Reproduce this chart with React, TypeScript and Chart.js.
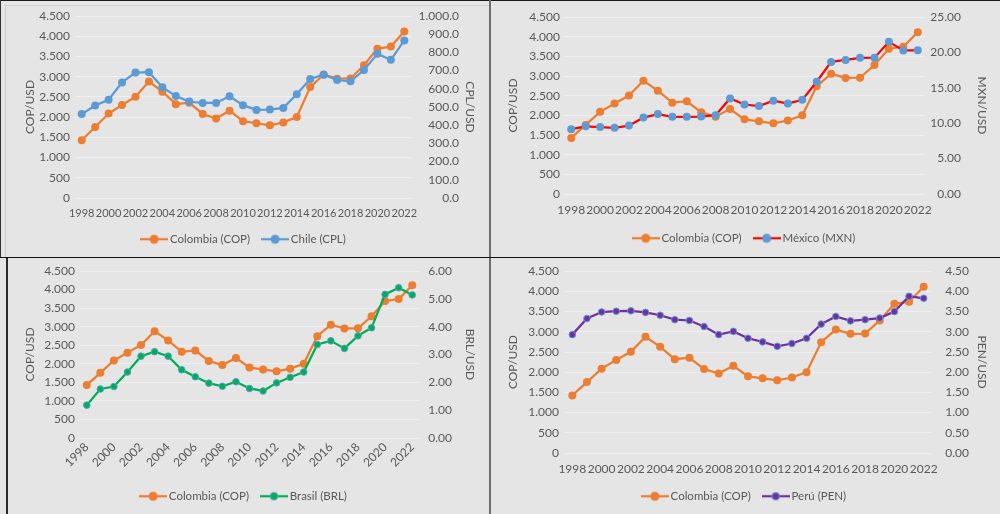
import React, { useEffect, useRef } from "react";
import { Chart, registerables } from "chart.js";

Chart.register(...registerables);

// ---------------- DATA ----------------
const years = [
  "1998", "1999", "2000", "2001", "2002", "2003", "2004", "2005", "2006", "2007",
  "2008", "2009", "2010", "2011", "2012", "2013", "2014", "2015", "2016", "2017",
  "2018", "2019", "2020", "2021", "2022",
];

const copValues = [
  1426, 1756, 2088, 2300, 2504, 2878, 2628, 2321, 2358, 2078,
  1967, 2158, 1898, 1848, 1798, 1869, 2001, 2742, 3055, 2951,
  2956, 3281, 3693, 3743, 4115,
];

const clpValues = [
  461, 508, 540, 635, 689, 691, 609, 560, 530, 522,
  522, 559, 510, 484, 486, 495, 570, 654, 677, 649,
  641, 703, 792, 759, 866,
];

const mxnValues = [
  9.15, 9.56, 9.46, 9.34, 9.66, 10.79, 11.29, 10.9, 10.9, 10.93,
  11.14, 13.5, 12.64, 12.42, 13.17, 12.77, 13.3, 15.85, 18.66, 18.93,
  19.24, 19.26, 21.49, 20.27, 20.3,
];

const brlValues = [
  1.18, 1.76, 1.85, 2.37, 2.94, 3.1, 2.94, 2.45, 2.2, 1.97,
  1.86, 2.02, 1.78, 1.69, 1.98, 2.18, 2.37, 3.36, 3.49, 3.22,
  3.67, 3.96, 5.16, 5.4, 5.14,
];

const penValues = [
  2.93, 3.33, 3.49, 3.51, 3.52, 3.48, 3.41, 3.3, 3.28, 3.13,
  2.93, 3.01, 2.84, 2.75, 2.64, 2.71, 2.84, 3.19, 3.38, 3.27,
  3.3, 3.34, 3.5, 3.88, 3.83,
];

const copAxisMax = 4500;
const copAxisStep = 500;

// ---------------- STYLE ----------------
const FONT = 'Lato, "Noto Sans", "DejaVu Sans", sans-serif';
const TEXT = "#595959";
const GRID = "#efefef";
const BG = "#e5e5e5";
const ORANGE = "#ED7D31";
const BLUE = "#5B9BD5";
const RED = "#FF0000";
const GREEN = "#00B050";
const PURPLE = "#7030A0";

function fmt(v: number, dec: number) {
  const s = v.toFixed(dec);
  const [i, d] = s.split(".");
  const ii = i.replace(/\B(?=(\d{3})+(?!\d))/g, ".");
  return d ? ii + "." + d : ii;
}

function legendIcon(line: string, fill: string, border: string | null, r: number) {
  const c = document.createElement("canvas");
  c.width = 28;
  c.height = 12;
  const ctx = c.getContext("2d")!;
  ctx.strokeStyle = line;
  ctx.lineWidth = 2.25;
  ctx.beginPath();
  ctx.moveTo(0, 6);
  ctx.lineTo(28, 6);
  ctx.stroke();
  ctx.beginPath();
  ctx.arc(14, 6, r, 0, Math.PI * 2);
  ctx.fillStyle = fill;
  ctx.fill();
  if (border) {
    ctx.lineWidth = 1;
    ctx.strokeStyle = border;
    ctx.stroke();
  }
  return c;
}

type Series = {
  label: string;
  values: number[];
  line: string;
  fill: string;
  border: string | null;
  radius: number;
};

type PanelCfg = {
  key: string;
  box: { left: number; top: number; width: number; height: number };
  plot: { left: number; right: number; top: number; bottom: number };
  rightLabelEdge: number;
  padBottom: number;
  leftTitlePad: number;
  leftTickPad: number;
  rightTitlePad: number;
  xTickPad: number;
  xFontSize: number;
  rotate: boolean;
  rightTitle: string;
  rightMax: number;
  rightStep: number;
  rightDec: number;
  second: Series;
};

const colombia: Series = {
  label: "Colombia (COP)",
  values: copValues,
  line: ORANGE,
  fill: ORANGE,
  border: null,
  radius: 4,
};

const panels: PanelCfg[] = [
  {
    key: "cl",
    box: { left: 0, top: 0, width: 490, height: 257 },
    plot: { left: 75, right: 411, top: 16, bottom: 198 },
    rightLabelEdge: 459,
    padBottom: 2,
    leftTitlePad: 23,
    leftTickPad: 5,
    rightTitlePad: 13,
    xTickPad: 9,
    xFontSize: 11,
    rotate: false,
    rightTitle: "CPL/USD",
    rightMax: 1000,
    rightStep: 100,
    rightDec: 1,
    second: { label: "Chile (CPL)", values: clpValues, line: BLUE, fill: BLUE, border: null, radius: 4 },
  },
  {
    key: "mx",
    box: { left: 491, top: 0, width: 509, height: 257 },
    plot: { left: 73, right: 434, top: 17, bottom: 194 },
    rightLabelEdge: 470,
    padBottom: 3,
    leftTitlePad: 15,
    leftTickPad: 4,
    rightTitlePad: 11,
    xTickPad: 9,
    xFontSize: 12,
    rotate: false,
    rightTitle: "MXN/USD",
    rightMax: 25,
    rightStep: 5,
    rightDec: 2,
    second: { label: "México (MXN)", values: mxnValues, line: RED, fill: BLUE, border: null, radius: 4 },
  },
  {
    key: "br",
    box: { left: 0, top: 258, width: 490, height: 256 },
    plot: { left: 80, right: 419, top: 13, bottom: 180 },
    rightLabelEdge: 452,
    padBottom: 2,
    leftTitlePad: 23,
    leftTickPad: 5,
    rightTitlePad: 13,
    xTickPad: 2,
    xFontSize: 12,
    rotate: true,
    rightTitle: "BRL/USD",
    rightMax: 6,
    rightStep: 1,
    rightDec: 2,
    second: { label: "Brasil (BRL)", values: brlValues, line: GREEN, fill: GREEN, border: BLUE, radius: 3.3 },
  },
  {
    key: "pe",
    box: { left: 491, top: 258, width: 509, height: 256 },
    plot: { left: 74, right: 440, top: 13, bottom: 195 },
    rightLabelEdge: 478,
    padBottom: 2,
    leftTitlePad: 15,
    leftTickPad: 6,
    rightTitlePad: 11,
    xTickPad: 9,
    xFontSize: 12,
    rotate: false,
    rightTitle: "PEN/USD",
    rightMax: 4.5,
    rightStep: 0.5,
    rightDec: 2,
    second: { label: "Perú (PEN)", values: penValues, line: PURPLE, fill: PURPLE, border: BLUE, radius: 3.3 },
  },
];

function makeDataset(s: Series, axis: string, order: number) {
  return {
    label: s.label,
    data: s.values,
    yAxisID: axis,
    borderColor: s.line,
    backgroundColor: s.fill,
    pointBackgroundColor: s.fill,
    pointBorderColor: s.border || s.fill,
    pointBorderWidth: s.border ? 1 : 0,
    pointRadius: s.radius,
    pointHoverRadius: s.radius,
    borderWidth: 2.25,
    tension: 0,
    order,
  };
}

const LEGEND_PAD = 15;

function Panel({ cfg }: { cfg: PanelCfg }) {
  const ref = useRef<HTMLCanvasElement | null>(null);

  useEffect(() => {
    if (!ref.current) return;
    const { box, plot } = cfg;
    const W = box.width;
    const H = box.height;
    const series = [colombia, cfg.second];
    const icons = series.map((s) => legendIcon(s.line, s.fill, s.border, s.radius + 0.5));
    const tickFont = { family: FONT, size: 12 };
    const xFont = { family: FONT, size: cfg.xFontSize };
    const legendFont = { family: FONT, size: 11.5 };

    const chart = new Chart(ref.current, {
      type: "line",
      data: {
        labels: years,
        datasets: [makeDataset(colombia, "y", 2), makeDataset(cfg.second, "y2", 1)] as any,
      },
      options: {
        responsive: false,
        animation: false,
        devicePixelRatio: 1,
        layout: { padding: { top: plot.top, left: 0, right: 0, bottom: cfg.padBottom } },
        plugins: {
          tooltip: { enabled: false },
          legend: {
            display: true,
            position: "bottom",
            labels: {
              usePointStyle: true,
              pointStyleWidth: 20,
              padding: LEGEND_PAD,
              color: TEXT,
              font: legendFont,
              generateLabels: () =>
                series.map((s, i) => ({
                  text: s.label,
                  pointStyle: icons[i],
                  rotation: 0,
                  fontColor: TEXT,
                  hidden: false,
                  datasetIndex: i,
                  lineWidth: 0,
                  strokeStyle: "rgba(0,0,0,0)",
                  fillStyle: "rgba(0,0,0,0)",
                })) as any,
            },
          },
        },
        scales: {
          x: {
            type: "category",
            offset: true,
            grid: { display: false, drawTicks: false },
            border: { display: false },
            ticks: {
              autoSkip: false,
              maxRotation: cfg.rotate ? 45 : 0,
              minRotation: cfg.rotate ? 45 : 0,
              padding: cfg.xTickPad,
              color: TEXT,
              font: xFont,
              callback: (_v: any, i: number) => (i % 2 === 0 ? years[i] : ""),
            },
            afterFit: (s: any) => {
              const lh = s.chart.legend ? s.chart.legend.height : 36;
              s.height = Math.max(0, H - cfg.padBottom - lh - plot.bottom);
            },
          },
          y: {
            type: "linear",
            position: "left",
            min: 0,
            max: copAxisMax,
            grid: { color: GRID, lineWidth: 1, drawTicks: false },
            border: { display: false },
            ticks: {
              stepSize: copAxisStep,
              padding: cfg.leftTickPad,
              color: TEXT,
              font: tickFont,
              callback: (v: any) => fmt(Number(v), 0),
            },
            title: {
              display: true,
              text: "COP/USD",
              color: TEXT,
              font: tickFont,
              padding: { top: cfg.leftTitlePad, bottom: 0 },
            },
            afterFit: (s: any) => {
              s.width = plot.left;
            },
          },
          y2: {
            type: "linear",
            position: "right",
            weight: 0,
            min: 0,
            max: cfg.rightMax,
            grid: { display: false, drawTicks: false },
            border: { display: false },
            ticks: {
              stepSize: cfg.rightStep,
              padding: 0,
              crossAlign: "far",
              color: TEXT,
              font: tickFont,
              callback: (v: any) => fmt(Number(v), cfg.rightDec),
            },
            afterFit: (s: any) => {
              s.width = cfg.rightLabelEdge - plot.right;
            },
          },
          yTitle: {
            type: "linear",
            position: "right",
            weight: 1,
            display: true,
            grid: { display: false, drawTicks: false },
            border: { display: false },
            ticks: { display: false },
            title: {
              display: true,
              text: cfg.rightTitle,
              color: TEXT,
              font: tickFont,
              padding: { top: cfg.rightTitlePad, bottom: 0 },
            },
            afterFit: (s: any) => {
              s.width = W - cfg.rightLabelEdge;
            },
          },
        },
      } as any,
    });
    return () => chart.destroy();
  }, [cfg]);

  return (
    <div
      style={{
        position: "absolute",
        left: cfg.box.left,
        top: cfg.box.top,
        width: cfg.box.width,
        height: cfg.box.height,
      }}
    >
      <canvas
        ref={ref}
        width={cfg.box.width}
        height={cfg.box.height}
        style={{ display: "block", width: cfg.box.width, height: cfg.box.height }}
      />
    </div>
  );
}

export default function App() {
  const line = (l: number, t: number, w: number, h: number, c: string) => (
    <div style={{ position: "absolute", left: l, top: t, width: w, height: h, background: c }} />
  );
  return (
    <div
      style={{
        position: "absolute",
        left: 0,
        top: 0,
        width: 1000,
        height: 514,
        background: BG,
        overflow: "hidden",
      }}
    >
      {panels.map((p) => (
        <Panel key={p.key} cfg={p} />
      ))}
      {line(0, 0, 1000, 1, "#1a1a1a")}
      {line(0, 0, 1, 257, "#333333")}
      {line(5, 5, 485, 1, "#cfcfcf")}
      {line(5, 5, 1, 252, "#cfcfcf")}
      {line(489, 0, 2, 514, "#6e6e6e")}
      {line(0, 257, 1000, 1, "#111111")}
      {line(6, 258, 2, 256, "#2a2a2a")}
    </div>
  );
}
